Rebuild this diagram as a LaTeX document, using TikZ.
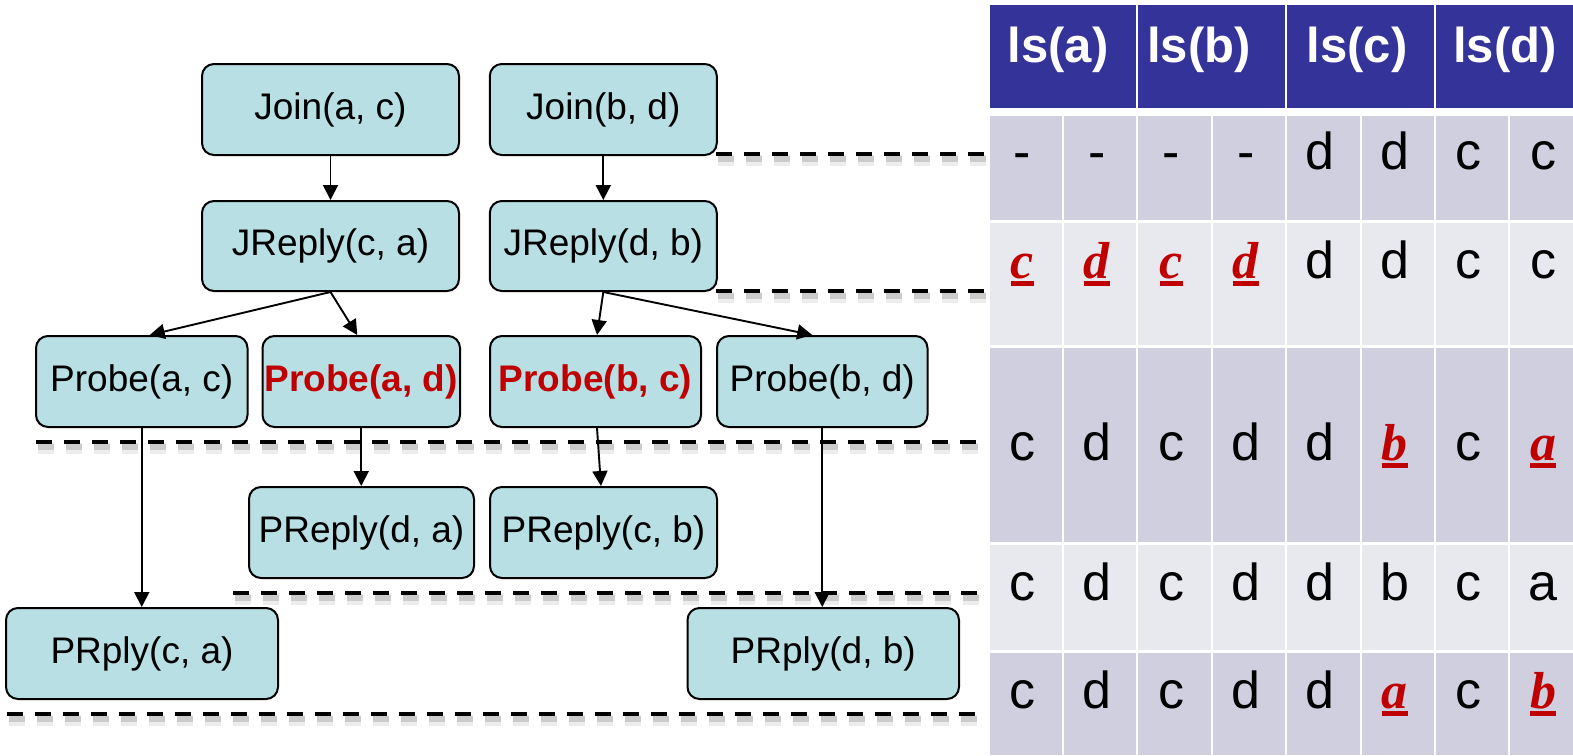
\documentclass[tikz,border=0pt]{standalone}
\usepackage{fontspec}
\setmainfont{Liberation Sans}
\newfontfamily\serifbi{Liberation Serif}
\usetikzlibrary{arrows.meta}

\definecolor{nodefill}{RGB}{184,223,227}
\definecolor{hdrblue}{RGB}{51,51,153}
\definecolor{rowdark}{RGB}{207,207,224}
\definecolor{rowlight}{RGB}{232,232,239}
\definecolor{alertred}{RGB}{192,0,0}

% changed leaf-set entry: red bold italic serif letter with a thick underline
\newcommand{\redmark}[1]{{\color{alertred}\serifbi\bfseries\itshape
  \setbox0\hbox{#1}\rlap{\rule[-7.5pt]{\wd0}{4.3pt}}\box0}}

\tikzset{
  msg/.style={draw, line width=2pt, fill=nodefill, rounded corners=12pt,
    minimum height=91pt, inner sep=0pt, font=\fontsize{37}{44}\selectfont},
  alert/.style={text=alertred, font=\fontsize{37}{44}\selectfont\bfseries},
  flow/.style={-{Triangle[length=15pt,width=15pt]}, line width=1.9pt},
  sep/.style={line width=4pt, dash pattern=on 16pt off 12pt},
  sepshadow/.style={dash pattern=on 16pt off 12pt, black},
  cell/.style={anchor=base, inner sep=0pt, font=\fontsize{52}{60}\selectfont},
  hdr/.style={anchor=base, inner sep=0pt, text=white, font=\fontsize{49}{58}\selectfont\bfseries},
}

\begin{document}
\begin{tikzpicture}[x=1pt, y=-1pt]
\fill[white] (0,0) rectangle (1573,755);
\useasboundingbox (0,0) rectangle (1573,755);

% ---- round separators (with soft shadow) ----
\foreach \xa/\xb/\yy in {716/985/154, 716/985/291, 36/985/442, 233/985/593, 7/985/714} {
  \draw[sepshadow, line width=11pt, opacity=0.07] (\xa+2,\yy+6) -- (\xb+2,\yy+6);
  \draw[sepshadow, line width=6pt, opacity=0.14] (\xa+2,\yy+5) -- (\xb+2,\yy+5);
  \draw[sep] (\xa,\yy) -- (\xb,\yy);
}

% ---- messages ----
\node[msg, minimum width=257pt] (jac) at (330.5,109.5) {Join(a, c)};
\node[msg, minimum width=227pt] (jbd) at (603.3,109.5) {Join(b, d)};
\node[msg, minimum width=257pt, minimum height=90pt] (jrca) at (330.5,246) {JReply(c, a)};
\node[msg, minimum width=227pt, minimum height=90pt] (jrdb) at (603.3,246) {JReply(d, b)};
\node[msg, minimum width=211.5pt] (pac) at (141.75,381.5) {Probe(a, c)};
\node[msg, alert, minimum width=197.5pt] (pad) at (361.25,381.5) {Probe(a, d)};
\node[msg, alert, minimum width=211pt] (pbc) at (595.5,381.5) {Probe(b, c)};
\node[msg, minimum width=210.5pt] (pbd) at (822.25,381.5) {Probe(b, d)};
\node[msg, minimum width=225pt] (prda) at (361.5,532.5) {PReply(d, a)};
\node[msg, minimum width=227pt] (prcb) at (603.5,532.5) {PReply(c, b)};
\node[msg, minimum width=272pt] (prlca) at (142,653.5) {PRply(c, a)};
\node[msg, minimum width=271.5pt] (prldb) at (823.25,653.5) {PRply(d, b)};

% ---- message flow ----
\draw[flow] (jac) -- (jrca);
\draw[flow] (jbd) -- (jrdb);
\draw[flow] (jrca.south) -- ([xshift=8pt]pac.north);
\draw[flow] (jrca.south) -- ([xshift=-4pt]pad.north);
\draw[flow] (jrdb.south) -- ([xshift=1.5pt]pbc.north);
\draw[flow] (jrdb.south) -- ([xshift=-10pt]pbd.north);
\draw[flow] (pac.south) -- (pac.south |- prlca.north);
\draw[flow] (pad.south) -- (pad.south |- prda.north);
\draw[flow] ([xshift=1.5pt]pbc.south) -- ([xshift=-2.5pt]prcb.north);
\draw[flow] (pbd.south) -- (pbd.south |- prldb.north);

% ---- leaf-set table ----
\foreach \k in {0,1,2,3} {
  \pgfmathsetmacro\xl{989.5+148.8*\k}
  \pgfmathsetmacro\xr{min(\xl+146.8,1573)}
  \fill[hdrblue] (\xl,5) rectangle (\xr,107.7);
}
\node[hdr] (ha) at (1058,62) {ls(a)};
\node[hdr] (hb) at (1199,62) {ls(b)};
\node[hdr] (hc) at (1357,62) {ls(c)};
\node[hdr] (hd) at (1505,62) {ls(d)};

\foreach \ya/\yb/\rc in {115.7/220/rowdark, 222.7/345/rowlight, 347.5/542.3/rowdark,
                         545/650/rowlight, 652.7/755/rowdark} {
  \foreach \i in {0,...,7} {
    \pgfmathsetmacro\xl{989.5+74.4*\i}
    \pgfmathsetmacro\xr{min(\xl+72.4,1573)}
    \fill[\rc] (\xl,\ya) rectangle (\xr,\yb);
  }
}

\foreach \i/\t in {0/-,1/-,2/-,3/-,4/d,5/d,6/c,7/c}
  \node[cell] (ra\i) at ({989.5+74.4*\i+33},169) {\t};
\foreach \i/\t in {0/{\redmark{c}},1/{\redmark{d}},2/{\redmark{c}},3/{\redmark{d}},4/d,5/d,6/c,7/c}
  \node[cell] (rb\i) at ({989.5+74.4*\i+33},278) {\t};
\foreach \i/\t in {0/c,1/d,2/c,3/d,4/d,5/{\redmark{b}},6/c,7/{\redmark{a}}}
  \node[cell] (rc\i) at ({989.5+74.4*\i+33},460) {\t};
\foreach \i/\t in {0/c,1/d,2/c,3/d,4/d,5/b,6/c,7/a}
  \node[cell] (rd\i) at ({989.5+74.4*\i+33},600) {\t};
\foreach \i/\t in {0/c,1/d,2/c,3/d,4/d,5/{\redmark{a}},6/c,7/{\redmark{b}}}
  \node[cell] (re\i) at ({989.5+74.4*\i+33},708) {\t};
\end{tikzpicture}
\end{document}
